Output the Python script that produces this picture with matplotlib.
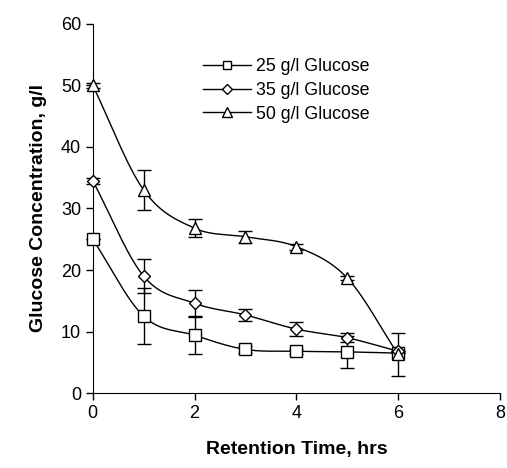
import numpy as np
import matplotlib
matplotlib.use('Agg')
import matplotlib.pyplot as plt

plt.rcParams['font.family'] = ['Liberation Sans', 'DejaVu Sans']

time_hrs = [0, 1, 2, 3, 4, 5, 6]

glc25 = [25.0, 12.5, 9.4, 7.1, 6.8, 6.7, 6.5]
glc25_err = [0.0, 4.5, 3.0, 0.5, 0.4, 2.6, 0.0]

glc35 = [34.5, 19.0, 14.6, 12.7, 10.4, 9.0, 6.8]
glc35_err = [0.5, 2.8, 2.1, 1.0, 1.1, 0.7, 0.0]

glc50 = [50.0, 33.0, 26.8, 25.4, 23.8, 18.7, 6.3]
glc50_err = [0.4, 3.2, 1.5, 1.0, 0.5, 0.4, 3.5]

labels = ['25 g/l Glucose', '35 g/l Glucose', '50 g/l Glucose']
markers = ['s', 'D', '^']
msizes = [8, 6.5, 9]


def smooth(x, y, n=30):
    # catmull-rom style smoothing, like the spreadsheet "smoothed line"
    x = np.asarray(x, float)
    y = np.asarray(y, float)
    px = np.concatenate([[2 * x[0] - x[1]], x, [2 * x[-1] - x[-2]]])
    py = np.concatenate([[2 * y[0] - y[1]], y, [2 * y[-1] - y[-2]]])
    xs, ys = [], []
    for i in range(1, len(px) - 2):
        t = np.linspace(0, 1, n)
        for arr, out in ((px, xs), (py, ys)):
            p0, p1, p2, p3 = arr[i - 1], arr[i], arr[i + 1], arr[i + 2]
            out.extend(0.5 * ((2 * p1) + (-p0 + p2) * t
                              + (2 * p0 - 5 * p1 + 4 * p2 - p3) * t ** 2
                              + (-p0 + 3 * p1 - 3 * p2 + p3) * t ** 3))
    return xs, ys


fig = plt.figure(figsize=(5.07, 4.68), dpi=100)
ax = fig.add_axes([0.183, 0.160, 0.803, 0.789])

series = [(glc25, glc25_err), (glc35, glc35_err), (glc50, glc50_err)]
handles = []
for (vals, err), lab, mk, ms in zip(series, labels, markers, msizes):
    sx, sy = smooth(time_hrs, vals)
    ax.plot(sx, sy, color='black', lw=1.0, zorder=2)
    eb = ax.errorbar(time_hrs, vals, yerr=err, fmt='none', ecolor='black',
                     elinewidth=1.0, capsize=5, capthick=1.0, zorder=3)
    for art in eb.lines[1] + eb.lines[2]:
        art.set_clip_on(False)
    ax.plot(time_hrs, vals, linestyle='none', marker=mk, ms=ms,
            mfc='white', mec='black', mew=1.0, zorder=4, clip_on=False)
    h, = ax.plot([], [], color='black', lw=1.0, marker=mk, ms=ms * 0.75,
                 mfc='white', mec='black', mew=1.0, label=lab)
    handles.append(h)

ax.set_xlim(0, 8)
ax.set_ylim(0, 60)
ax.set_xticks([0, 2, 4, 6, 8])
ax.set_yticks([0, 10, 20, 30, 40, 50, 60])
ax.spines['top'].set_visible(False)
ax.spines['right'].set_visible(False)
ax.tick_params(direction='out', length=5, labelsize=13, width=1)

ax.set_xlabel('Retention Time, hrs', fontsize=14, fontweight='bold', labelpad=14)
ax.set_ylabel('Glucose Concentration, g/l', fontsize=14, fontweight='bold', labelpad=10)

fig.legend(handles=handles, loc='upper left', bbox_to_anchor=(0.400, 0.876),
           frameon=False, fontsize=12.8, handlelength=2.7, handletextpad=0.3,
           labelspacing=0.38, borderpad=0, borderaxespad=0)

fig.savefig('out.png', dpi=100)
